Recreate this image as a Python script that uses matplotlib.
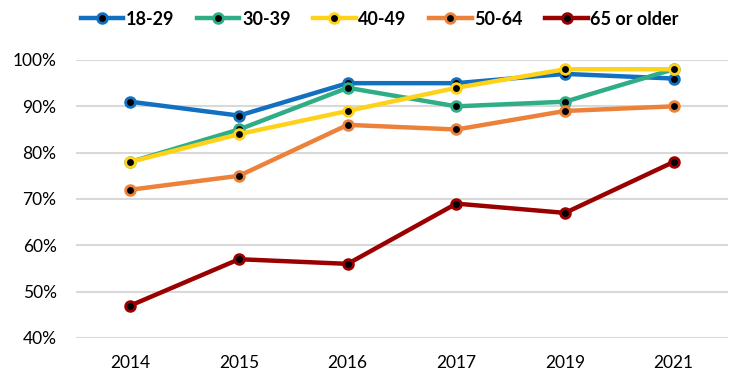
import matplotlib.pyplot as plt
from matplotlib.ticker import FuncFormatter

years = ['2014', '2015', '2016', '2017', '2019', '2021']
age_18_29 = [91, 88, 95, 95, 97, 96]
age_30_39 = [78, 85, 94, 90, 91, 98]
age_40_49 = [78, 84, 89, 94, 98, 98]
age_50_64 = [72, 75, 86, 85, 89, 90]
age_65_up = [47, 57, 56, 69, 67, 78]

series = [
    ('18-29', age_18_29, '#1170C0'),
    ('30-39', age_30_39, '#2EAD86'),
    ('40-49', age_40_49, '#FFD21A'),
    ('50-64', age_50_64, '#EC8139'),
    ('65 or older', age_65_up, '#9B0000'),
]

plt.rcParams['font.family'] = ['Lato', 'DejaVu Sans']

fig = plt.figure(figsize=(7.49, 3.75), dpi=100)
ax = fig.add_axes([0.1015, 0.0987, 0.8705, 0.7413])

x = range(len(years))
for name, vals, col in series:
    ax.plot(x, vals, color=col, lw=3.2, marker='o', ms=7, mfc='black',
            mec=col, mew=2, label=name, clip_on=False, zorder=3)

ax.set_xlim(-0.5, len(years) - 0.5)
ax.set_ylim(40, 100)
ax.set_yticks(range(40, 101, 10))
ax.yaxis.set_major_formatter(FuncFormatter(lambda v, p: f'{int(v)}%'))
ax.set_xticks(list(x))
ax.set_xticklabels(years)
ax.grid(axis='y', color='#d9d9d9', lw=1.5)
ax.set_axisbelow(True)
for s in ax.spines.values():
    s.set_visible(False)
ax.tick_params(length=0, labelsize=12.5, colors='black')
ax.tick_params(axis='y', pad=14)
ax.tick_params(axis='x', pad=12)

ax.legend(loc='center', bbox_to_anchor=(0.466, 1.147), ncol=5, frameon=False,
          handlelength=2.35, handletextpad=0.15, columnspacing=1.25,
          borderaxespad=0, borderpad=0,
          prop={'weight': 'bold', 'size': 13})

fig.savefig('out.png', dpi=100)
